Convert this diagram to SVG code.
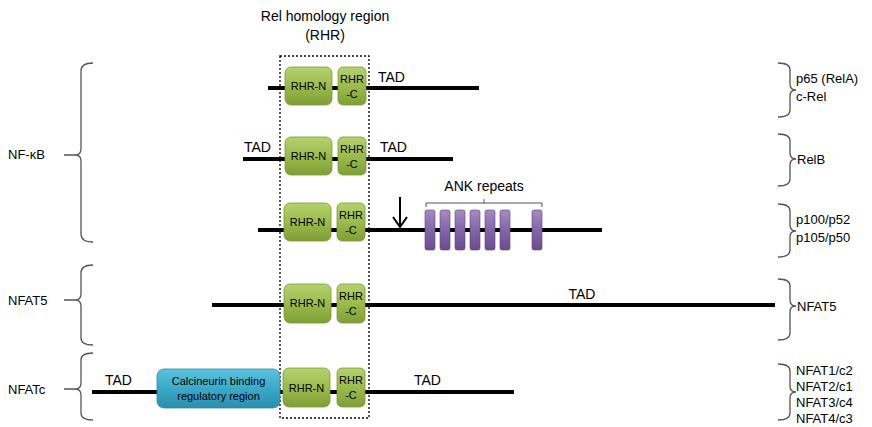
<svg xmlns="http://www.w3.org/2000/svg" width="872" height="427" viewBox="0 0 872 427">
<defs>
<linearGradient id="gG" x1="0" y1="0" x2="0" y2="1"><stop offset="0" stop-color="#b5d26e"/><stop offset="0.5" stop-color="#9bbb4c"/><stop offset="1" stop-color="#7f9e36"/></linearGradient>
<linearGradient id="gB" x1="0" y1="0" x2="0" y2="1"><stop offset="0" stop-color="#5cc3df"/><stop offset="0.5" stop-color="#3aa9c8"/><stop offset="1" stop-color="#2a8eab"/></linearGradient>
<linearGradient id="gP" x1="0" y1="0" x2="0" y2="1"><stop offset="0" stop-color="#a58bc3"/><stop offset="0.5" stop-color="#8465a8"/><stop offset="1" stop-color="#6a4c8e"/></linearGradient>
<marker id="ah" markerWidth="12" markerHeight="16" refX="11" refY="8" orient="auto" markerUnits="userSpaceOnUse"><path d="M1,1 L11,8 L1,15" fill="none" stroke="#000" stroke-width="2"/></marker>
</defs>
<style>
text{font-family:"Comic Sans MS","Liberation Sans",sans-serif;fill:#000}
.t{font-size:14px}
.s{font-size:11px}
.bb{font-size:13px}
.ln{stroke:#000;stroke-width:4;fill:none}
.rn{fill:url(#gG);stroke:#7a9a35;stroke-width:0.8}
.br{fill:none;stroke:#555;stroke-width:1.3}
.ank{fill:url(#gP);stroke:#5e447f;stroke-width:0.6}
</style>
<rect width="872" height="427" fill="#fff"/>

<g id="title">
<text class="t" x="325" y="21" text-anchor="middle">Rel homology region</text>
<text class="t" x="325" y="40" text-anchor="middle">(RHR)</text>
</g>

<g id="connectors">
<line class="ln" x1="268" y1="88" x2="479" y2="88"/>
<line class="ln" x1="243" y1="159" x2="453" y2="159"/>
<line class="ln" x1="258" y1="230" x2="602" y2="230"/>
<line class="ln" x1="212" y1="305" x2="775" y2="305"/>
<line class="ln" x1="92" y1="392" x2="514" y2="392"/>
<line x1="400" y1="197" x2="400" y2="227" stroke="#000" stroke-width="2" marker-end="url(#ah)"/>
</g>

<rect id="rhr-box" x="280" y="56" width="89" height="362" fill="none" stroke="#000" stroke-width="1.3" stroke-dasharray="2,2"/>

<g id="row1">
<rect class="rn" x="285" y="67" width="47" height="38" rx="6"/>
<text class="s" x="308.5" y="90" text-anchor="middle">RHR-N</text>
<rect class="rn" x="338" y="67" width="28" height="38" rx="5"/>
<text class="s" x="352" y="83" text-anchor="middle">RHR</text>
<text class="s" x="352" y="98" text-anchor="middle">-C</text>
<text class="t" x="378" y="82">TAD</text>
</g>

<g id="row2">
<text class="t" x="244" y="152">TAD</text>
<rect class="rn" x="285" y="137" width="47" height="38" rx="6"/>
<text class="s" x="308.5" y="160" text-anchor="middle">RHR-N</text>
<rect class="rn" x="338" y="137" width="28" height="38" rx="5"/>
<text class="s" x="352" y="153" text-anchor="middle">RHR</text>
<text class="s" x="352" y="168" text-anchor="middle">-C</text>
<text class="t" x="380" y="152">TAD</text>
</g>

<g id="row3">
<rect class="rn" x="284" y="203" width="47" height="38" rx="6"/>
<text class="s" x="307.5" y="226" text-anchor="middle">RHR-N</text>
<rect class="rn" x="337" y="203" width="28" height="38" rx="5"/>
<text class="s" x="351" y="219" text-anchor="middle">RHR</text>
<text class="s" x="351" y="234" text-anchor="middle">-C</text>
<text class="t" x="484" y="191" text-anchor="middle">ANK repeats</text>
<path d="M426,207 V203 H484 V199 M484,203 H542 V207" fill="none" stroke="#555" stroke-width="1"/>
<rect class="ank" x="425" y="210" width="10" height="40" rx="2"/>
<rect class="ank" x="440" y="210" width="10" height="40" rx="2"/>
<rect class="ank" x="455" y="210" width="10" height="40" rx="2"/>
<rect class="ank" x="470" y="210" width="10" height="40" rx="2"/>
<rect class="ank" x="485" y="210" width="10" height="40" rx="2"/>
<rect class="ank" x="500" y="210" width="10" height="40" rx="2"/>
<rect class="ank" x="532" y="210" width="10" height="40" rx="2"/>
</g>

<g id="row4">
<rect class="rn" x="284" y="284" width="47" height="39" rx="6"/>
<text class="s" x="307.5" y="307" text-anchor="middle">RHR-N</text>
<rect class="rn" x="337" y="284" width="28" height="39" rx="5"/>
<text class="s" x="351" y="300" text-anchor="middle">RHR</text>
<text class="s" x="351" y="315" text-anchor="middle">-C</text>
<text class="t" x="582" y="299" text-anchor="middle">TAD</text>
</g>

<g id="row5">
<text class="t" x="105" y="385">TAD</text>
<rect x="157" y="369" width="123" height="39" rx="7" fill="url(#gB)" stroke="#2a8aa6" stroke-width="0.8"/>
<text class="s" x="218.5" y="385" text-anchor="middle">Calcineurin binding</text>
<text class="s" x="218.5" y="400" text-anchor="middle">regulatory region</text>
<rect class="rn" x="283" y="368" width="47" height="39" rx="6"/>
<text class="s" x="306.5" y="392" text-anchor="middle">RHR-N</text>
<rect class="rn" x="337" y="368" width="28" height="39" rx="5"/>
<text class="s" x="351" y="384" text-anchor="middle">RHR</text>
<text class="s" x="351" y="399" text-anchor="middle">-C</text>
<text class="t" x="414" y="385">TAD</text>
</g>

<g id="left-nfkb">
<text class="bb" x="8" y="159">NF-κB</text>
<path class="br" d="M93,63 Q81,63 81,71 V149 Q81,155 75,155 Q81,155 81,161 V234 Q81,242 93,242 M64,155 H75"/>
</g>
<g id="left-nfat5">
<text class="bb" x="8" y="305">NFAT5</text>
<path class="br" d="M93,265 Q81,265 81,273 V294 Q81,300 75,300 Q81,300 81,306 V338 Q81,345 93,345 M64,300 H75"/>
</g>
<g id="left-nfatc">
<text class="bb" x="8" y="394">NFATc</text>
<path class="br" d="M93,353 Q81,353 81,360 V383 Q81,389 75,389 Q81,389 81,395 V413 Q81,420 93,420 M64,389 H75"/>
</g>

<g id="right-p65">
<path class="br" d="M778,63 Q790,63 790,70 V84 Q790,90 796,90 Q790,90 790,96 V110 Q790,117 778,117"/>
<text class="bb" x="796" y="83">p65 (RelA)</text>
<text class="bb" x="796" y="101">c-Rel</text>
</g>
<g id="right-relb">
<path class="br" d="M778,134 Q790,134 790,141 V153 Q790,159 796,159 Q790,159 790,165 V179 Q790,186 778,186"/>
<text class="bb" x="797" y="164">RelB</text>
</g>
<g id="right-p100">
<path class="br" d="M778,204 Q790,204 790,211 V225 Q790,231 796,231 Q790,231 790,237 V250 Q790,257 778,257"/>
<text class="bb" x="796" y="224">p100/p52</text>
<text class="bb" x="796" y="242">p105/p50</text>
</g>
<g id="right-nfat5">
<path class="br" d="M778,279 Q790,279 790,286 V300 Q790,306 796,306 Q790,306 790,312 V333 Q790,340 778,340"/>
<text class="bb" x="797" y="311">NFAT5</text>
</g>
<g id="right-nfatc">
<path class="br" d="M778,364 Q790,364 790,371 V386 Q790,392 796,392 Q790,392 790,398 V413 Q790,420 778,420"/>
<text class="bb" x="796" y="375">NFAT1/c2</text>
<text class="bb" x="796" y="391">NFAT2/c1</text>
<text class="bb" x="796" y="407">NFAT3/c4</text>
<text class="bb" x="796" y="423">NFAT4/c3</text>
</g>
</svg>
